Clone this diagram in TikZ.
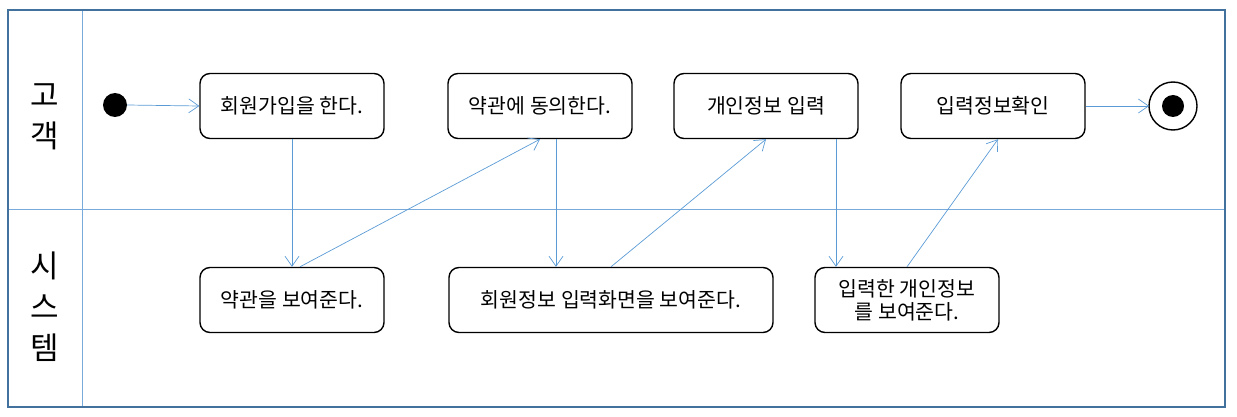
\documentclass[tikz,border=0pt]{standalone}
\usepackage{fontspec}
\setmainfont{Noto Sans CJK KR}
\usetikzlibrary{arrows.meta}

\definecolor{flowblue}{RGB}{91,155,213}
\definecolor{laneblue}{RGB}{120,170,220}
\definecolor{frameblue}{RGB}{65,113,156}

\tikzset{
  act/.style={draw, line width=1.4pt, rounded corners=10pt,
    minimum width=184pt, minimum height=65pt, align=center,
    font=\fontsize{20.5}{23}\selectfont},
  flow/.style={draw=flowblue, line width=0.7pt,
    -{Straight Barb[length=10pt,width=14pt]}},
  lane/.style={draw=laneblue, line width=0.7pt},
  lanename/.style={align=center, font=\fontsize{31}{41}\selectfont}
}

\begin{document}
\begin{tikzpicture}[x=1pt,y=-1pt]

\useasboundingbox (0,0) rectangle (1237,417);

% Lanes
\draw[lane] (8,209) -- (1225,209);
\draw[lane] (82,10) -- (82,407);
\draw[frameblue, line width=1.4pt] (8,10) rectangle (1225,407);

\node[lanename] (customer) at (45,117) {고\\객};
\node[lanename] (system) at (45,307) {시\\스\\템};

% Customer
\fill (115,105) circle (12) coordinate (start);

\node[act] (join) at (292,106) {회원가입을 한다.};
\node[act] (agree) at (540,106) {약관에 동의한다.};
\node[act] (input) at (766,106) {개인정보 입력};
\node[act] (check) at (993,106) {입력정보확인};

\draw[line width=1.4pt] (1173,106) circle (24);
\fill (1173,106) circle (11);
\coordinate (finish) at (1149,106);

% System
\node[act] (terms) at (292,300) {약관을 보여준다.};
\node[act, minimum width=324pt] (form) at (611,300) {회원정보 입력화면을 보여준다.};
\node[act] (show) at (907,300) {입력한 개인정보\\를 보여준다.};

% Flow
\draw[flow] ([xshift=12pt]start) -- (join.west);
\draw[flow] (join.south) -- (terms.north);
\draw[flow] ([xshift=8pt]terms.north) -- (agree.south);
\draw[flow] ([xshift=16pt]agree.south) -- ([xshift=16pt]agree.south |- form.north);
\draw[flow] (form.north) -- (input.south);
\draw[flow] ([xshift=70pt]input.south) -- ([xshift=70pt]input.south |- show.north);
\draw[flow] (show.north) -- ([xshift=5pt]check.south);
\draw[flow] (check.east) -- (finish);

\end{tikzpicture}
\end{document}
